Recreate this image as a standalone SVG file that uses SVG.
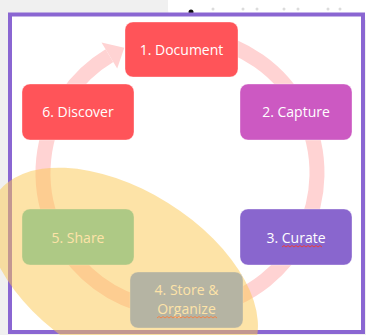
<svg xmlns="http://www.w3.org/2000/svg" width="366" height="335" viewBox="0 0 366 335">
<style>
.node{stroke:#ffffff;stroke-opacity:0.35;stroke-width:1}
.lbl{font-family:"Open Sans","Liberation Sans",sans-serif;font-size:14px;fill:#ffffff;text-anchor:middle}
.squig{fill:none;stroke:#e8403f;stroke-width:1}
</style>
<rect x="0" y="0" width="366" height="335" fill="#f0f0f0"/>
<rect x="168" y="-10" width="210" height="30" rx="10" fill="#ffffff"/>
<circle cx="191" cy="12" r="2.5" fill="#111111"/>
<g fill="#dcdcdc">
<circle cx="213" cy="9" r="1.5"/><circle cx="243" cy="9" r="1.5"/><circle cx="257" cy="9" r="1.5"/>
<circle cx="284" cy="9" r="1.5"/><circle cx="298" cy="9" r="1.5"/><circle cx="328" cy="9" r="1.5"/><circle cx="340" cy="9" r="1.5"/>
</g>
<rect x="10" y="14.5" width="353" height="317.5" fill="#ffffff" stroke="#8a66d2" stroke-width="4"/>
<g id="connectors">
<path d="M203.8 38.1 A137 137 0 1 1 109.4 55.6" fill="none" stroke="#ffd3d3" stroke-width="15"/>
<polygon points="101.5,42.5 124.3,47.8 117.2,68.5" fill="#ffd3d3"/>
</g>
<g id="n1"><rect class="node" x="125" y="22" width="113" height="55" rx="8" fill="#ff5459"/><text class="lbl" x="181.5" y="55">1. Document</text></g>
<g id="n2"><rect class="node" x="240" y="84" width="112" height="56" rx="8" fill="#cc59c2"/><text class="lbl" x="296" y="117">2. Capture</text></g>
<g id="n3"><rect class="node" x="240" y="209" width="112" height="56" rx="8" fill="#8966ce"/><text class="lbl" x="296" y="243">3. Curate</text><path class="squig" d="M282 247 l2 -1.5 l2 1.5 l2 -1.5 l2 1.5 l2 -1.5 l2 1.5 l2 -1.5 l2 1.5 l2 -1.5 l2 1.5 l2 -1.5 l2 1.5 l2 -1.5 l2 1.5 l2 -1.5 l2 1.5 l2 -1.5 l2 1.5 l2 -1.5 l2 1.5"/></g>
<g id="n4"><rect class="node" x="130" y="272" width="113" height="56" rx="8" fill="#6fa0f7"/><text class="lbl" x="186.5" y="295">4. Store &amp;</text><text class="lbl" x="186.5" y="314">Organize</text><path class="squig" d="M157 318 l2 -1.5 l2 1.5 l2 -1.5 l2 1.5 l2 -1.5 l2 1.5 l2 -1.5 l2 1.5 l2 -1.5 l2 1.5 l2 -1.5 l2 1.5 l2 -1.5 l2 1.5 l2 -1.5 l2 1.5 l2 -1.5 l2 1.5 l2 -1.5 l2 1.5 l2 -1.5 l2 1.5 l2 -1.5 l2 1.5 l2 -1.5 l2 1.5 l2 -1.5 l2 1.5 l2 -1.5 l2 1.5"/></g>
<g id="n5"><rect class="node" x="22" y="209" width="112" height="56" rx="8" fill="#61caba"/><text class="lbl" x="78" y="243">5. Share</text></g>
<g id="n6"><rect class="node" x="22" y="84" width="112" height="56" rx="8" fill="#ff5459"/><text class="lbl" x="78" y="117">6. Discover</text></g>
<ellipse cx="123" cy="275" rx="150" ry="85" transform="rotate(32 123 275)" fill="#fbc84f" fill-opacity="0.5"/>
</svg>
